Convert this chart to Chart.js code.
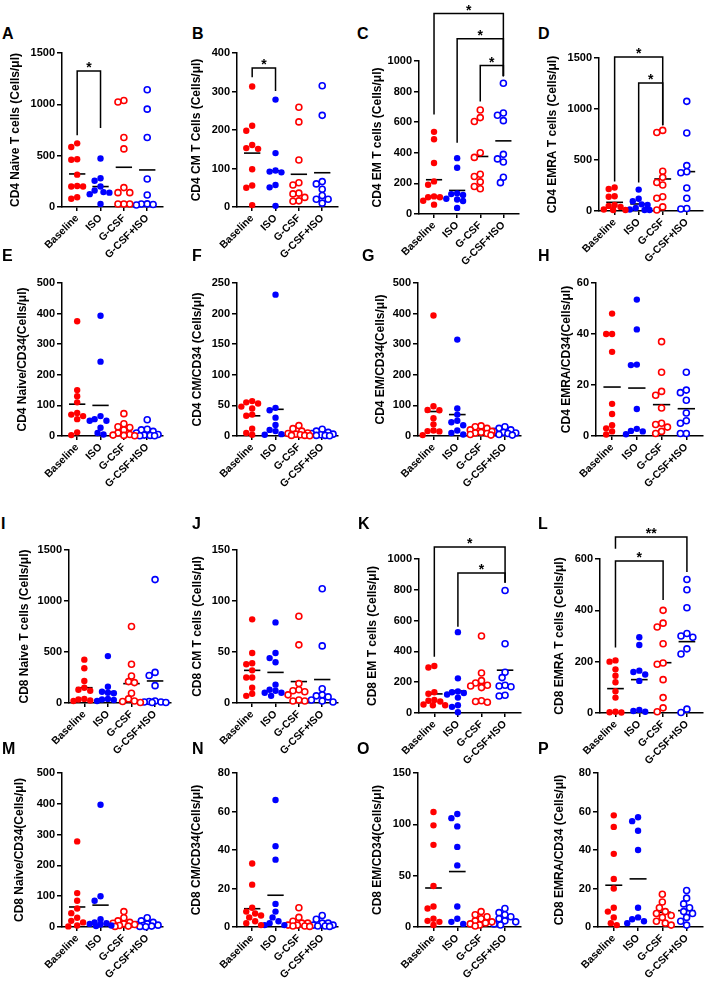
<!DOCTYPE html>
<html>
<head>
<meta charset="utf-8">
<script src="https://cdn.jsdelivr.net/npm/chart.js@4.4.0/dist/chart.umd.min.js"></script>
<style>
  body { margin: 0; background: #fff; }
  #wrap { position: relative; width: 710px; height: 992px; overflow: hidden; }
  #wrap canvas { position: absolute; }
  .lbl { position: absolute; font: bold 16px "Liberation Sans", Arial, sans-serif; line-height: 16px; color: #000; }
</style>
</head>
<body>
<div id="wrap"></div>
<script>
// 그룹 이름 (x축)
var groups = ['Baseline', 'ISO', 'G-CSF', 'G-CSF+ISO'];

// 각 패널 값: [Baseline, ISO, G-CSF, G-CSF+ISO]
var cd4Naive = [[620, 585, 465, 460, 315, 205, 200, 200, 95, 80], [472, 280, 255, 200, 160, 145, 140, 125, 30], [1038, 1022, 677, 566, 189, 140, 140, 29, 29, 29], [1142, 953, 677, 273, 117, 29, 25, 30, 20]];
var cd4CM = [[313, 211, 198, 161, 153, 151, 98, 56, 50, 5], [279, 140, 95, 92, 90, 57, 51, 3], [259, 221, 122, 63, 57, 36, 34, 25, 16, 15], [315, 238, 66, 60, 46, 30, 20, 20, 10]];
var cd4EM = [[537, 489, 333, 213, 191, 115, 109, 109, 87, 61], [365, 302, 135, 130, 125, 100, 95, 85, 40], [680, 630, 605, 400, 370, 260, 245, 210, 180, 165], [855, 660, 645, 610, 390, 360, 340, 240, 205]];
var cd4EMRA = [[230, 215, 145, 140, 60, 50, 40, 15, 10, 10], [210, 120, 95, 65, 60, 30, 15, 10, 10], [790, 770, 390, 330, 280, 255, 140, 125, 40, 10], [1075, 765, 445, 385, 375, 225, 125, 25, 20]];
var cd4NaiveCD34 = [[375, 150, 130, 110, 75, 70, 65, 55, 12, 3], [393, 243, 65, 55, 50, 50, 27, 10, 5], [73, 40, 30, 28, 20, 10, 5, 3, 2, 1], [53, 22, 20, 15, 10, 5, 3, 2, 1, 1]];
var cd4CMCD34 = [[57, 55, 53, 48, 45, 35, 33, 12, 5, 2], [231, 46, 42, 30, 18, 10, 8, 3, 2], [17, 12, 8, 5, 4, 3, 2, 1, 1, 0.5], [11, 8, 6, 4, 3, 2, 1, 1, 0.5]];
var cd4EMCD34 = [[394, 97, 85, 84, 58, 38, 18, 16, 15, 3], [315, 90, 70, 50, 45, 35, 18, 10, 5], [33, 30, 25, 20, 15, 12, 10, 8, 5, 3], [30, 25, 20, 15, 12, 10, 8, 5, 3]];
var cd4EMRACD34 = [[48, 40, 40, 33, 12.6, 8.6, 4.2, 3, 1.8, 0.6], [53.5, 41.8, 28, 27.8, 10.6, 2.8, 2, 1.8, 0.7], [37, 25, 17.5, 16, 11, 5, 4.5, 3.5, 1.8, 1], [25, 18, 17, 14, 9, 6, 5, 1, 1]];
var cd8Naive = [[425, 340, 215, 150, 130, 120, 40, 35, 25, 20], [460, 160, 110, 100, 95, 40, 35, 30, 20], [750, 380, 265, 210, 200, 95, 40, 20, 15, 5], [1210, 300, 270, 170, 20, 15, 10, 10, 5, 5]];
var cd8CM = [[82, 49, 39, 38, 32, 25, 25, 15, 9, 7], [79, 49, 44, 40, 18, 13, 12, 10, 10, 7], [85, 57, 19, 13, 12, 11, 8, 3, 2, 2], [112, 56, 14, 8, 7, 6, 3, 2, 1]];
var cd8EM = [[305, 295, 135, 125, 85, 80, 75, 55, 50, 50], [525, 225, 140, 135, 130, 120, 100, 50, 40, 5], [500, 260, 210, 195, 180, 175, 165, 80, 75, 70], [795, 450, 265, 230, 180, 175, 170, 115, 110]];
var cd8EMRA = [[205, 200, 170, 145, 120, 85, 60, 5, 3, 2], [295, 265, 165, 160, 150, 125, 12, 8, 5], [400, 350, 335, 270, 195, 190, 130, 60, 20, 5], [520, 480, 410, 310, 300, 295, 250, 230, 15, 2]];
var cd8NaiveCD34 = [[278, 110, 85, 60, 45, 30, 20, 15, 5, 2], [397, 100, 85, 25, 15, 12, 10, 8, 5, 3], [50, 30, 20, 15, 12, 10, 8, 5, 3, 2], [30, 20, 15, 10, 8, 6, 5, 3, 2, 1]];
var cd8CMCD34 = [[33, 22, 10, 8, 7, 6, 5, 3, 2, 1], [66, 42, 35, 12, 8, 5, 3, 2, 1, 1], [10, 5, 3, 2, 2, 1, 1, 0.5, 0.5, 0.3], [6, 4, 2, 2, 1, 1, 0.5, 0.5, 0.3]];
var cd8EMCD34 = [[112, 99, 80, 40, 20, 18, 8, 6, 5, 2], [110, 106, 98, 78, 60, 20, 8, 5, 3], [15, 12, 10, 8, 6, 5, 4, 3, 2, 1], [18, 14, 12, 10, 8, 6, 5, 3, 2]];
var cd8EMRACD34 = [[58, 52, 38, 25, 20, 10, 8, 5, 2, 1], [57, 55, 50, 40, 10, 5, 4, 3, 2], [17, 13, 10, 8, 7, 6, 5, 3, 2, 1], [19, 15, 12, 10, 8, 7, 5, 3, 1]];

// 평균선
var means = {
  A: [322, 199, 387, 361], B: [140, 94, 85, 89], C: [224, 154, 376, 478], D: [85, 69, 314, 386],
  E: [104, 100, 20, 13], F: [33, 43.6, 4, 3.5], G: [80, 70, 16, 14], H: [19.2, 18.8, 12.3, 10.7],
  I: [150, 111, 190, 216], J: [32, 30, 21, 23], K: [124, 143, 191, 278], L: [95, 130, 196, 278],
  M: [65, 71, 12, 9], N: [9.5, 16.5, 2, 1.5], O: [38, 54, 7, 8.5], P: [21.7, 25, 7.7, 8.5]
};

// y축 최대값, 눈금 간격
var yMax = { A: 1500, B: 400, C: 1000, D: 1500, E: 500, F: 250, G: 500, H: 60, I: 1500, J: 150, K: 1000, L: 600, M: 500, N: 80, O: 150, P: 80 };
var yStep = { A: 500, B: 100, C: 200, D: 500, E: 100, F: 50, G: 100, H: 20, I: 500, J: 50, K: 200, L: 200, M: 100, N: 20, O: 50, P: 20 };

var titles = {
  A: 'CD4 Naive T cells (Cells/μl)', B: 'CD4 CM T Cells (Cells/μl)', C: 'CD4 EM T cells (Cells/μl)', D: 'CD4 EMRA T cells (Cells/μl)',
  E: 'CD4 Naive/CD34(Cells/μl)', F: 'CD4 CM/CD34 (Cells/μl)', G: 'CD4 EM/CD34(Cells/μl)', H: 'CD4 EMRA/CD34(Cells/μl)',
  I: 'CD8 Naive T cells (Cells/μl)', J: 'CD8 CM T cells (Cells/μl)', K: 'CD8 EM T cells (Cells/μl)', L: 'CD8 EMRA T cells (Cells/μl)',
  M: 'CD8 Naive/CD34(Cells/μl)', N: 'CD8 CM/CD34(Cells/μl)', O: 'CD8 EM/CD34(Cells/μl)', P: 'CD8 EMRA/CD34 (Cells/μl)'
};

// 유의성 표시: [시작그룹, 끝그룹, 높이, 왼쪽다리끝, 오른쪽다리끝, 글자]
var sig = {
  A: [[1, 2, 1325, 700, 770, '*']],
  B: [[1, 2, 361, 337, 301, '*']],
  C: [[1, 4, 1310, 650, 900, '*'], [2, 4, 1145, 465, 900, '*'], [3, 4, 970, 735, 900, '*']],
  D: [[1, 3, 1510, 290, 840, '*'], [2, 3, 1255, 280, 840, '*']],
  K: [[1, 4, 1078, 365, 845, '*'], [2, 4, 909, 560, 845, '*']],
  L: [[1, 4, 686, 640, 549, '**'], [1, 3, 592, 255, 440, '*']]
};

var panelData = { A: cd4Naive, B: cd4CM, C: cd4EM, D: cd4EMRA, E: cd4NaiveCD34, F: cd4CMCD34, G: cd4EMCD34, H: cd4EMRACD34,
  I: cd8Naive, J: cd8CM, K: cd8EM, L: cd8EMRA, M: cd8NaiveCD34, N: cd8CMCD34, O: cd8EMCD34, P: cd8EMRACD34 };

// 배치: [캔버스left, 캔버스top, y축x, 위, 아래, 오른쪽, 제목중심x, 글자x, 글자y]
var layout = {
  A: [0, 0, 62, 53, 207, 164, 16, 2, 26], B: [175, 0, 237, 53, 207, 339, 197, 192, 26],
  C: [350, 0, 419, 61, 214, 520, 378, 357, 26], D: [525, 0, 599, 58, 211, 704, 553, 538, 26],
  E: [0, 240, 62, 283, 436, 164, 23, 2, 248], F: [175, 240, 237, 283, 436, 339, 198, 192, 248],
  G: [350, 240, 418, 283, 436, 522, 381, 362, 248], H: [525, 240, 596, 283, 436, 704, 567, 538, 248],
  I: [0, 470, 69, 550, 703, 172, 25, 1, 516], J: [175, 470, 237, 550, 703, 339, 198, 192, 516],
  K: [350, 470, 419, 559, 713, 522, 373, 358, 516], L: [525, 470, 600, 559, 713, 704, 560, 538, 516],
  M: [0, 740, 62, 773, 927, 164, 20, 2, 741], N: [175, 740, 237, 773, 927, 339, 197, 192, 741],
  O: [350, 740, 418, 773, 927, 522, 378, 357, 741], P: [525, 740, 598, 773, 927, 704, 560, 538, 741]
};

var RED = '#ff0000', BLUE = '#0000ff';
var FONT = '"Liberation Sans", Arial, sans-serif';
var XMIN = 0.35, XMAX = 4.65, XLAB_H = 62;
var TITLE_SIZE = 12;

// 점 겹치지 않게 좌우로 퍼뜨림 (폭 제한, 넘치면 겹치게 둠)
function swarm(values, cat, pxX, pxY) {
  var placed = [], out = [];
  var cands = [0, -3, 3, -6, 6, -9, 9, -11, 11, -1.5, 1.5, -4.5, 4.5, -7.5, 7.5, -10, 10];
  var order = values.map(function (v, i) { return i; }).sort(function (a, b) { return values[b] - values[a]; });
  order.forEach(function (i) {
    var yp = values[i] * pxY;
    var best = null, bestD = -1;
    for (var k = 0; k < cands.length; k++) {
      var xp = cands[k];
      var d = placed.reduce(function (m, p) { return Math.min(m, Math.hypot(p[0] - xp, p[1] - yp)); }, 99);
      if (d >= 6) { best = xp; break; }
      if (d > bestD) { bestD = d; best = xp; }
    }
    placed.push([best, yp]);
    out.push({ x: cat + best / pxX, y: values[i] });
  });
  return out;
}

var bracketPlugin = {
  id: 'brackets',
  afterDraw: function (chart) {
    var list = chart.options.plugins.brackets.list || [];
    var ctx = chart.ctx, xs = chart.scales.x, ys = chart.scales.y;
    ctx.save();
    ctx.strokeStyle = '#000';
    ctx.lineWidth = 1.5;
    list.forEach(function (b) {
      var x1 = xs.getPixelForValue(b[0]), x2 = xs.getPixelForValue(b[1]);
      var yl = ys.getPixelForValue(b[2]);
      ctx.beginPath();
      ctx.moveTo(x1, ys.getPixelForValue(b[3]));
      ctx.lineTo(x1, yl);
      ctx.lineTo(x2, yl);
      ctx.lineTo(x2, ys.getPixelForValue(b[4]));
      ctx.stroke();
      ctx.fillStyle = '#000';
      ctx.font = 'bold 14px ' + FONT;
      ctx.textAlign = 'center';
      ctx.textBaseline = 'alphabetic';
      ctx.fillText(b[5], (x1 + x2) / 2, yl + 1);
    });
    ctx.restore();
  }
};

var wrap = document.getElementById('wrap');

Object.keys(layout).forEach(function (key) {
  var g = layout[key];
  var cl = g[0], ct = g[1], ax = g[2], top = g[3], bottom = g[4], right = g[5], tx = g[6];
  var w = right + 4 - cl, h = bottom + XLAB_H - ct;
  var padL = tx - TITLE_SIZE * 0.6 - cl;
  var yW = ax - cl - padL;

  var lbl = document.createElement('div');
  lbl.className = 'lbl';
  lbl.style.left = g[7] + 'px';
  lbl.style.top = g[8] + 'px';
  lbl.textContent = key;
  wrap.appendChild(lbl);

  var cv = document.createElement('canvas');
  cv.width = w; cv.height = h;
  cv.style.left = cl + 'px'; cv.style.top = ct + 'px';
  wrap.appendChild(cv);

  var pxX = (right - ax) / (XMAX - XMIN);
  var pxY = (bottom - top) / yMax[key];
  var vals = panelData[key];
  var datasets = [];
  vals.forEach(function (arr, gi) {
    var open = gi >= 2;
    var col = gi % 2 === 0 ? RED : BLUE;
    datasets.push({
      type: 'scatter',
      data: swarm(arr, gi + 1, pxX, pxY),
      pointRadius: open ? 3 : 3.2,
      pointBackgroundColor: open ? '#fff' : col,
      pointBorderColor: col,
      pointBorderWidth: open ? 1.6 : 0,
      clip: false
    });
  });
  means[key].forEach(function (m, gi) {
    datasets.push({
      type: 'line',
      data: [{ x: gi + 1 - 0.35, y: m }, { x: gi + 1 + 0.35, y: m }],
      borderColor: '#000',
      borderWidth: 1.6,
      pointRadius: 0,
      clip: false
    });
  });

  new Chart(cv, {
    type: 'scatter',
    data: { datasets: datasets },
    plugins: [bracketPlugin],
    options: {
      responsive: false,
      animation: false,
      devicePixelRatio: 1,
      layout: { padding: { left: padL, top: top - ct, right: 4, bottom: 0 } },
      plugins: { legend: { display: false }, tooltip: { enabled: false }, brackets: { list: sig[key] || [] } },
      scales: {
        x: {
          type: 'linear', min: XMIN, max: XMAX,
          afterBuildTicks: function (s) { s.ticks = [1, 2, 3, 4].map(function (v) { return { value: v }; }); },
          afterFit: function (s) { s.height = XLAB_H; },
          ticks: {
            autoSkip: false, maxRotation: 45, minRotation: 45, padding: 1,
            color: '#000', font: { family: FONT, size: 10.5, weight: 'bold' },
            callback: function (v) { return groups[v - 1]; }
          },
          grid: { display: true, drawOnChartArea: false, drawTicks: true, tickLength: 4, color: '#000', lineWidth: 1.5 },
          border: { display: true, color: '#000', width: 1.5 }
        },
        y: {
          min: 0, max: yMax[key],
          afterFit: function (s) { s.width = yW; },
          ticks: {
            stepSize: yStep[key], padding: 2, color: '#000', font: { family: FONT, size: 11, weight: 'bold' },
            callback: function (v) { return String(v); }
          },
          grid: { display: true, drawOnChartArea: false, drawTicks: true, tickLength: 5, color: '#000', lineWidth: 1.5 },
          border: { display: true, color: '#000', width: 1.5 },
          title: { display: true, text: titles[key], color: '#000', padding: 0, font: { family: FONT, size: TITLE_SIZE, weight: 'bold' } }
        }
      }
    }
  });
});
</script>
</body>
</html>
